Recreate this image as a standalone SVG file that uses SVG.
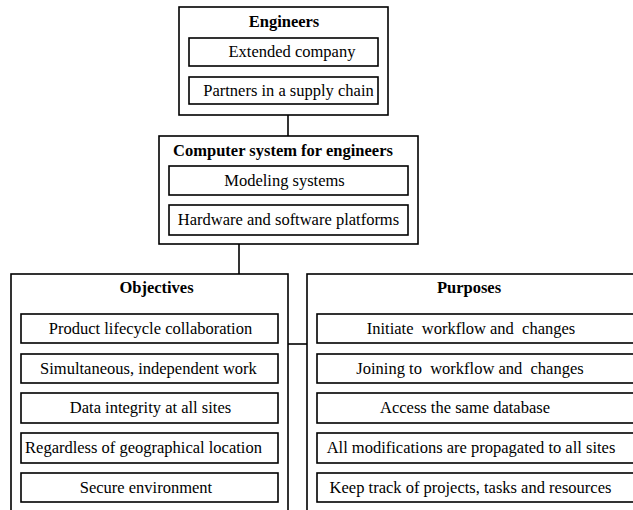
<svg xmlns="http://www.w3.org/2000/svg" width="633" height="510" viewBox="0 0 633 510">
<style>
.box{fill:#fff;stroke:#000;stroke-width:1.6}
.item{fill:#fff;stroke:#000;stroke-width:1.6}
.t{font-size:16.5px;fill:#000;text-anchor:middle}
.b{font-weight:bold}
.c{stroke:#000;stroke-width:1.6;fill:none}
</style>
<rect width="633" height="510" fill="#fff"/>
<g id="connectors">
<line class="c" x1="288" y1="115" x2="288" y2="136"/>
<line class="c" x1="239" y1="244" x2="239" y2="274"/>
<line class="c" x1="288" y1="344" x2="307" y2="344"/>
</g>
<g font-family="Liberation Serif, Tinos, DejaVu Serif, serif">
<g id="engineers">
<rect class="box" x="179" y="7" width="209" height="108"/>
<text class="t b" x="284" y="27">Engineers</text>
<rect class="item" x="189" y="38" width="189" height="28"/>
<text class="t" x="292" y="57">Extended company</text>
<rect class="item" x="189" y="77" width="189" height="27"/>
<text class="t" x="288.5" y="96">Partners in a supply chain</text>
</g>
<g id="computer">
<rect class="box" x="159" y="136" width="259" height="108"/>
<text class="t b" x="283" y="156">Computer system for engineers</text>
<rect class="item" x="169" y="166" width="239" height="29"/>
<text class="t" x="284.5" y="186">Modeling systems</text>
<rect class="item" x="169" y="205" width="239" height="30"/>
<text class="t" x="288.5" y="225">Hardware and software platforms</text>
</g>
<g id="objectives">
<rect class="box" x="11" y="274" width="277" height="250"/>
<text class="t b" x="156.5" y="293">Objectives</text>
<rect class="item" x="21" y="314" width="257" height="29"/>
<text class="t" x="150.5" y="334">Product lifecycle collaboration</text>
<rect class="item" x="21" y="354" width="257" height="29"/>
<text class="t" x="148.5" y="374">Simultaneous, independent work</text>
<rect class="item" x="21" y="393" width="257" height="30"/>
<text class="t" x="150.5" y="413">Data integrity at all sites</text>
<rect class="item" x="21" y="433" width="257" height="30"/>
<text class="t" x="143.5" y="453">Regardless of geographical location</text>
<rect class="item" x="21" y="473" width="257" height="29"/>
<text class="t" x="146" y="493">Secure environment</text>
</g>
<g id="purposes">
<rect class="box" x="307" y="274" width="340" height="250"/>
<text class="t b" x="469" y="293">Purposes</text>
<rect class="item" x="317" y="314" width="325" height="29"/>
<text class="t" x="471" y="334" xml:space="preserve">Initiate  workflow and  changes</text>
<rect class="item" x="317" y="354" width="325" height="29"/>
<text class="t" x="470" y="374" xml:space="preserve">Joining to  workflow and  changes</text>
<rect class="item" x="317" y="393" width="325" height="30"/>
<text class="t" x="465" y="413">Access the same database</text>
<rect class="item" x="317" y="433" width="325" height="30"/>
<text class="t" x="471" y="453">All modifications are propagated to all sites</text>
<rect class="item" x="317" y="473" width="325" height="29"/>
<text class="t" x="470.5" y="493">Keep track of projects, tasks and resources</text>
</g>
</g>
</svg>
